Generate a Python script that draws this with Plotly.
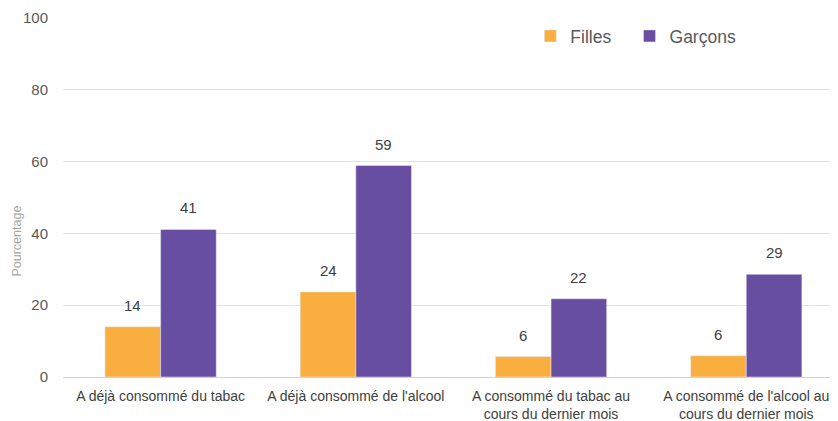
import plotly.graph_objects as go

categories = ["A déjà consommé du tabac", "A déjà consommé de l'alcool",
              "A consommé du tabac au<br>cours du dernier mois",
              "A consommé de l'alcool au<br>cours du dernier mois"]
filles = [14, 23.7, 5.7, 5.9]
garcons = [41.1, 58.9, 21.8, 28.6]
filles_labels = ["14", "24", "6", "6"]
garcons_labels = ["41", "59", "22", "29"]

orange = "#FBAE40"
violet = "#684EA1"
font = "Liberation Sans"

fig = go.Figure()
fig.add_trace(go.Bar(x=categories, y=filles, name="Filles", marker_color=orange,
                     text=filles_labels, textposition="none", legend="legend"))
fig.add_trace(go.Bar(x=categories, y=garcons, name="Garçons", marker_color=violet,
                     text=garcons_labels, textposition="none", legend="legend2"))

# étiquettes au-dessus des barres
for i, cat in enumerate(categories):
    for val, lab, off in ((filles[i], filles_labels[i], -0.5), (garcons[i], garcons_labels[i], 0.5)):
        fig.add_annotation(x=i + off * 0.285, y=val, text=lab, showarrow=False,
                           yanchor="bottom", yshift=11, xref="x", yref="y",
                           font=dict(family=font, size=15, color="#404040"))

fig.add_annotation(text="Pourcentage", textangle=-90, xref="paper", yref="paper",
                   x=-0.071, y=0.38, showarrow=False, xanchor="left",
                   font=dict(family=font, size=12.5, color="#a6a6a6"))

leg = dict(orientation="h", y=1.0, xanchor="left", yanchor="top",
           font=dict(family=font, size=17.5, color="#595959"),
           itemwidth=30, bgcolor="rgba(0,0,0,0)")

# la page ajoute une marge de 8 px autour de la figure
fig.update_layout(
    width=830, height=413,
    margin=dict(l=55, r=0, t=10, b=44),
    paper_bgcolor="white", plot_bgcolor="white",
    barmode="group", bargap=0.43, bargroupgap=0,
    font=dict(family=font, size=14, color="#404040"),
    showlegend=True,
    legend=dict(leg, x=0.603),
    legend2=dict(leg, x=0.731),
)
fig.update_xaxes(range=[-0.5, 3.47], showline=True, linecolor="#d0d0d0", linewidth=1,
                 automargin=False, ticks="", ticklabelstandoff=6,
                 tickfont=dict(family=font, size=14, color="#404040"))
fig.update_yaxes(range=[0, 100], dtick=20, showgrid=True, gridcolor="#e3e3e3",
                 automargin=False, zeroline=False, ticks="", ticklabelstandoff=14,
                 tickfont=dict(family=font, size=15, color="#595959"))

fig.write_html("out.html")
